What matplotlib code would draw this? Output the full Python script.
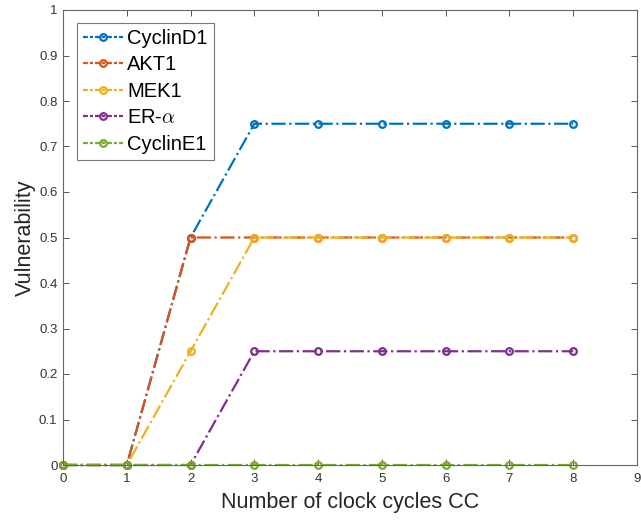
import matplotlib
matplotlib.use("Agg")
import matplotlib.pyplot as plt
import numpy as np

plt.rcParams['font.family'] = ['Liberation Sans', 'DejaVu Sans']
plt.rcParams['mathtext.fontset'] = 'cm'

cycles = [0, 1, 2, 3, 4, 5, 6, 7, 8]
series_names = ['CyclinD1', 'AKT1', 'MEK1', r'ER-$\alpha$', 'CyclinE1']
cyclind1 = [0, 0, 0.5, 0.75, 0.75, 0.75, 0.75, 0.75, 0.75]
akt1 = [0, 0, 0.5, 0.5, 0.5, 0.5, 0.5, 0.5, 0.5]
mek1 = [0, 0, 0.25, 0.5, 0.5, 0.5, 0.5, 0.5, 0.5]
er_alpha = [0, 0, 0, 0.25, 0.25, 0.25, 0.25, 0.25, 0.25]
cycline1 = [0, 0, 0, 0, 0, 0, 0, 0, 0]
colors = ['#0072BD', '#D95319', '#EDB120', '#7E2F8E', '#77AC30']
ytick_labels = ['0', '0.1', '0.2', '0.3', '0.4', '0.5', '0.6', '0.7', '0.8', '0.9', '1']

W, H = 641, 521
fig = plt.figure(figsize=(W/100, H/100), dpi=100)
L, T, R, B = 63, 10, 637, 465
ax = fig.add_axes([L/W, (H-B)/H, (R-L)/W, (B-T)/H])

for vals, name, c in zip([cyclind1, akt1, mek1, er_alpha, cycline1], series_names, colors):
    ax.plot(cycles, vals, linestyle='-.', color=c, linewidth=1.6, marker='o',
            markersize=4.8, markerfacecolor='none', markeredgewidth=1.6, label=name,
            clip_on=False)

ax.set_xlim(0, 9)
ax.set_ylim(0, 1)
ax.set_xticks(range(0, 10))
ax.set_yticks(np.arange(0, 1.01, 0.1))
ax.set_yticklabels(ytick_labels)
ax.tick_params(direction='in', top=True, right=True, labelsize=9.5, labelcolor='#333333',
               color='#555555', length=4, width=0.7)
ax.tick_params(axis='x', pad=6)
ax.tick_params(axis='y', pad=4)
for s in ax.spines.values():
    s.set_color('#666666')
    s.set_linewidth(0.8)
ax.set_xlabel('Number of clock cycles CC', fontsize=15.5, color='#262626', labelpad=5)
ax.set_ylabel('Vulnerability', fontsize=15.5, color='#262626', labelpad=2)

leg = ax.legend(loc='upper left', fontsize=14.5, frameon=True, fancybox=False,
                edgecolor='#555555', handlelength=2.0, borderpad=0.3,
                labelspacing=0.37, handletextpad=0.2, borderaxespad=0,
                bbox_to_anchor=(14/(R-L), 1-13/(B-T)))
leg.get_frame().set_linewidth(0.8)
for ln in leg.get_lines():
    ln.set_dashes([2.2, 0.9, 1.4, 0.9])

fig.savefig('out.png', dpi=100)
